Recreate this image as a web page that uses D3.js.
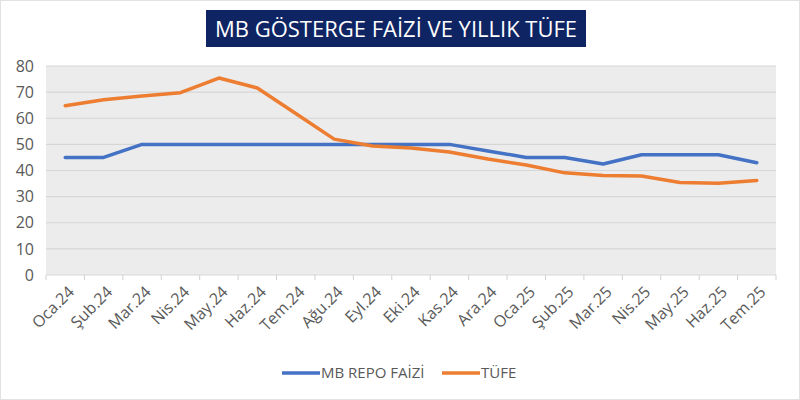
<!DOCTYPE html>
<html>
<head>
<meta charset="utf-8">
<script src="https://cdn.jsdelivr.net/npm/d3@7"></script>
<style>
  body { margin: 0; background: #fff; }
  svg { display: block; font-family: "Open Sans", "Noto Sans", sans-serif; }
</style>
</head>
<body>
<div id="chart"></div>
<script>
// months on the x axis
var months = ["Oca.24","Şub.24","Mar.24","Nis.24","May.24","Haz.24","Tem.24","Ağu.24","Eyl.24","Eki.24",
  "Kas.24","Ara.24","Oca.25","Şub.25","Mar.25","Nis.25","May.25","Haz.25","Tem.25"];
var repo = [45,45,50,50,50,50,50,50,50,50,50,47.5,45,45,42.5,46,46,46,43];
var tufe = [64.8,67.1,68.5,69.8,75.4,71.6,61.8,52,49.4,48.6,47.1,44.4,42.1,39.1,38.1,37.9,35.4,35.1,36.2];
var yTicks = [0,10,20,30,40,50,60,70,80];
var seriesNames = ["MB REPO FAİZİ","TÜFE"];
var colors = ["#4472c4","#ed7d31"];

var W = 800, H = 400;
var margin = {top: 66, right: 24, bottom: 125, left: 46};

var svg = d3.select("#chart").append("svg")
    .attr("width", W).attr("height", H);

// faint outer border
svg.append("rect").attr("x",0.5).attr("y",0.5).attr("width",W-1).attr("height",H-1)
  .attr("fill","none").attr("stroke","#e2e2e2");

var x = d3.scaleBand().domain(months).range([margin.left, W - margin.right]);
var y = d3.scaleLinear().domain([0,80]).range([H - margin.bottom, margin.top]);

// plot background
svg.append("rect")
  .attr("x", margin.left).attr("y", margin.top)
  .attr("width", W - margin.left - margin.right)
  .attr("height", H - margin.top - margin.bottom)
  .attr("fill","#ececec");

// grid
svg.append("g").selectAll("line").data(yTicks.slice(1)).enter().append("line")
  .attr("x1", margin.left).attr("x2", W - margin.right)
  .attr("y1", function(d){ return y(d); }).attr("y2", function(d){ return y(d); })
  .attr("stroke","#d6d6d6").attr("stroke-width",1.2);

// y axis labels
var yAxis = svg.append("g")
  .attr("transform","translate(" + margin.left + ",0)")
  .call(d3.axisLeft(y).tickValues(yTicks).tickSize(0).tickPadding(12));
yAxis.select(".domain").remove();
yAxis.selectAll("text").attr("fill","#595959").style("font-size","16px")
  .style("font-family","'Open Sans', sans-serif");

// x axis: ticks at band edges
var xAxis = svg.append("g")
  .attr("transform","translate(0," + (H - margin.bottom) + ")");
xAxis.append("line").attr("x1", margin.left).attr("x2", W - margin.right)
  .attr("stroke","#d9d9d9");
xAxis.selectAll("line.tk").data(months.concat(["end"])).enter().append("line")
  .attr("class","tk")
  .attr("x1", function(d,i){ return margin.left + i * x.step(); })
  .attr("x2", function(d,i){ return margin.left + i * x.step(); })
  .attr("y1",0).attr("y2",5).attr("stroke","#d0d0d0");
xAxis.selectAll("text").data(months).enter().append("text")
  .attr("transform", function(d){ return "translate(" + (x(d) + x.bandwidth()/2 + 2) + ",10) rotate(-45)"; })
  .attr("text-anchor","end")
  .attr("dy","0.7em")
  .attr("fill","#595959")
  .style("font-size","16px")
  .text(function(d){ return d; });

// lines
var line = d3.line()
  .x(function(d,i){ return x(months[i]) + x.bandwidth()/2; })
  .y(function(d){ return y(d); });

[repo, tufe].forEach(function(s, k){
  svg.append("path").datum(s)
    .attr("d", line)
    .attr("fill","none")
    .attr("stroke", colors[k])
    .attr("stroke-width",3.5)
    .attr("stroke-linejoin","round")
    .attr("stroke-linecap","round");
});

// title box
svg.append("rect").attr("x",206).attr("y",10).attr("width",380).attr("height",37)
  .attr("fill","#0e2463");
svg.append("text").attr("x",396).attr("y",29).attr("dy","0.36em")
  .attr("text-anchor","middle").attr("fill","#fff")
  .style("font-size","22px")
  .text("MB GÖSTERGE FAİZİ VE YILLIK TÜFE");

// legend
var legendPos = [[282,320],[442,480]];
seriesNames.forEach(function(n,k){
  var g = svg.append("g");
  g.append("line").attr("x1",legendPos[k][0]).attr("x2",legendPos[k][1])
    .attr("y1",373).attr("y2",373).attr("stroke",colors[k]).attr("stroke-width",3.5);
  g.append("text").attr("x",legendPos[k][1]+1).attr("y",373).attr("dy","0.36em")
    .attr("fill","#595959").style("font-size","15px").text(n);
});
</script>
</body>
</html>
